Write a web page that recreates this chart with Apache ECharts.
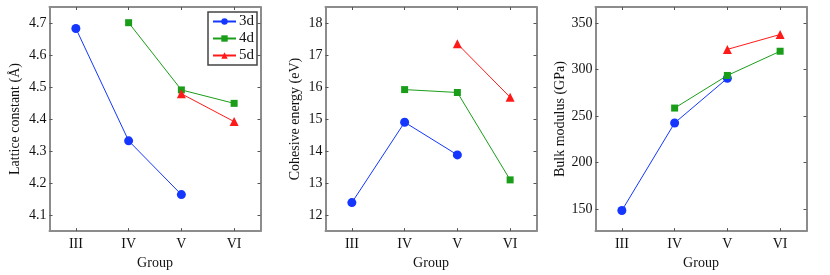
<!DOCTYPE html>
<html>
<head>
<meta charset="utf-8">
<script src="https://cdn.jsdelivr.net/npm/echarts@6/dist/echarts.min.js"></script>
<style>html,body{margin:0;padding:0;background:#fff}#c{width:830px;height:275px}</style>
</head>
<body>
<div id="c"></div>
<script>
// ---- data ----
const groups = ['III', 'IV', 'V', 'VI'];
const seriesNames = ['3d', '4d', '5d'];

const lattice3d = [4.683, 4.332, 4.164, null];
const lattice4d = [null, 4.701, 4.491, 4.449];
const lattice5d = [null, null, 4.479, 4.392];

const cohesive3d = [12.39, 14.90, 13.88, null];
const cohesive4d = [null, 15.92, 15.83, 13.10];
const cohesive5d = [null, null, 17.35, 15.68];

const bulk3d = [148.5, 242.5, 290.5, null];
const bulk4d = [null, 258.5, 293.5, 319.5];
const bulk5d = [null, null, 321.5, 337.5];

const latticeTicks = [4.1, 4.2, 4.3, 4.4, 4.5, 4.6, 4.7];
const cohesiveTicks = [12, 13, 14, 15, 16, 17, 18];
const bulkTicks = [150, 200, 250, 300, 350];

const yTitles = ['Lattice constant (Å)', 'Cohesive energy (eV)', 'Bulk modulus (GPa)'];
const xTitle = 'Group';

// ---- styling / layout ----
const FONT = 'Liberation Serif';
const colors = ['#1436ff', '#1a9e1a', '#ff1a1a'];
const symbols = ['circle', 'rect', 'triangle'];
const symbolSizes = [9, 7, 9];
const gridLefts = [49.5, 325.5, 595.5];
const gridWidth = 211;
const yRanges = [[4.05, 4.75], [11.5, 18.5], [126.4, 367]];
const yTickSets = [latticeTicks, cohesiveTicks, bulkTicks];
const yNameGaps = [27, 23, 27];
const dataSets = [
  [lattice3d, lattice4d, lattice5d],
  [cohesive3d, cohesive4d, cohesive5d],
  [bulk3d, bulk4d, bulk5d]
];

const axisLineStyle = { color: '#8c8c8c', width: 2 };
const tickStyle = { color: '#555', width: 1 };

const grids = [], xAxes = [], yAxes = [], series = [];
for (let p = 0; p < 3; p++) {
  grids.push({ left: gridLefts[p], top: 7, width: gridWidth, height: 234, containLabel: false });
  // bottom x
  xAxes.push({
    gridIndex: p, type: 'category', data: groups, position: 'bottom', boundaryGap: true,
    axisLine: { show: true, lineStyle: axisLineStyle },
    axisTick: { show: true, inside: true, alignWithLabel: true, length: 3, lineStyle: tickStyle },
    axisLabel: { fontFamily: FONT, fontSize: 14, color: '#111', margin: 6 },
    name: xTitle, nameLocation: 'middle', nameGap: 19,
    nameTextStyle: { fontFamily: FONT, fontSize: 14, color: '#111' },
    splitLine: { show: false }
  });
  // top x (box)
  xAxes.push({
    gridIndex: p, type: 'category', data: groups, position: 'top', boundaryGap: true,
    axisLine: { show: true, lineStyle: axisLineStyle },
    axisTick: { show: true, inside: true, alignWithLabel: true, length: 3, lineStyle: tickStyle },
    axisLabel: { show: false }, splitLine: { show: false }
  });
  // left y
  yAxes.push({
    gridIndex: p, type: 'value', position: 'left', min: yRanges[p][0], max: yRanges[p][1],
    axisLine: { show: true, lineStyle: axisLineStyle },
    axisTick: { show: true, inside: true, length: 3, lineStyle: tickStyle, customValues: yTickSets[p] },
    axisLabel: { fontFamily: FONT, fontSize: 14, color: '#111', margin: 3, customValues: yTickSets[p] },
    splitLine: { show: false },
    name: yTitles[p], nameLocation: 'middle', nameGap: yNameGaps[p], nameRotate: 90,
    nameTextStyle: { fontFamily: FONT, fontSize: 14, color: '#111' }
  });
  // right y (box)
  yAxes.push({
    gridIndex: p, type: 'value', position: 'right', min: yRanges[p][0], max: yRanges[p][1],
    axisLine: { show: true, lineStyle: axisLineStyle },
    axisTick: { show: true, inside: true, length: 3, lineStyle: tickStyle, customValues: yTickSets[p] },
    axisLabel: { show: false, customValues: yTickSets[p] },
    splitLine: { show: false }
  });
  for (let s = 0; s < 3; s++) {
    series.push({
      name: seriesNames[s], type: 'line', xAxisIndex: p * 2, yAxisIndex: p * 2,
      data: dataSets[p][s], connectNulls: false,
      symbol: symbols[s], symbolSize: symbolSizes[s], showAllSymbol: true,
      lineStyle: { color: colors[s], width: 1 },
      itemStyle: { color: colors[s] },
      emphasis: { disabled: true }, animation: false, z: 3 + s
    });
  }
}

const chart = echarts.init(document.getElementById('c'), null, { renderer: 'canvas' });
chart.setOption({
  backgroundColor: '#fff',
  animation: false,
  grid: grids,
  xAxis: xAxes,
  yAxis: yAxes,
  legend: {
    data: seriesNames, orient: 'vertical', left: 208, top: 12,
    itemWidth: 23, itemHeight: 8, itemGap: 2,
    borderColor: '#444', borderWidth: 1.5, backgroundColor: '#fff',
    padding: [2, 3, 2, 4],
    textStyle: { fontFamily: FONT, fontSize: 15, color: '#111', padding: [0, 0, 0, -2] }
  },
  series: series
});
</script>
</body>
</html>
